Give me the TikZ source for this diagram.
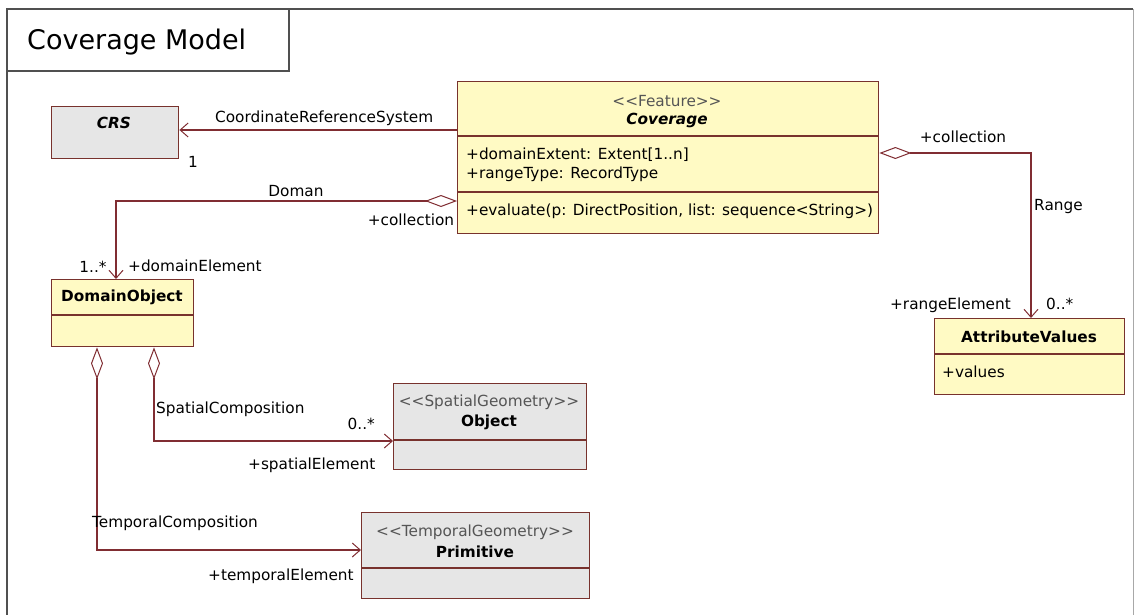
\documentclass[tikz,border=0pt]{standalone}
\usepackage{fontspec}
\setmainfont{DejaVu Sans}
\usetikzlibrary{arrows.meta,calc}
\definecolor{umlline}{RGB}{128,45,50}
\definecolor{umlborder}{RGB}{120,50,45}
\definecolor{umlyellow}{RGB}{255,250,196}
\definecolor{umlgray}{RGB}{230,230,230}
\definecolor{framegray}{RGB}{80,80,80}
\definecolor{stereo}{RGB}{85,85,85}
\tikzset{
  txt/.style={inner sep=0pt, font=\fontsize{15.3}{18}\selectfont},
  boldtxt/.style={inner sep=0pt, font=\fontsize{15.3}{18}\selectfont\bfseries},
  classbox/.style={draw=umlborder, line width=1.4pt, anchor=north west, inner sep=0pt},
  ybox/.style={classbox, fill=umlyellow},
  gbox/.style={classbox, fill=umlgray},
  divider/.style={draw=umlborder, line width=1.4pt},
  assoc/.style={draw=umlline, line width=1.1pt, -{Straight Barb[length=8pt,width=14pt,line width=1pt]}},
  aggr/.style={draw=umlline, line width=1.1pt, {Diamond[open,length=32pt,width=12pt,line width=1pt]}-{Straight Barb[length=8pt,width=14pt,line width=1pt]}},
  stereotxt/.style={txt, text=stereo},
}
\begin{document}
\begin{tikzpicture}[x=1pt,y=-1pt]
\useasboundingbox (0,0) rectangle (1134,615);
% frame
\draw[framegray!50, line width=1pt] (1133,9) -- (1133,615);
\draw[framegray, line width=2pt] (7,615) -- (7,9) -- (1133,9);
\draw[framegray, line width=1.3pt] (7,71) -- (289,71) -- (289,9);
\node[txt, anchor=west, font=\fontsize{27}{32}\selectfont] (title) at (27,42) {Coverage Model};

% classes
\node[gbox, minimum width=127pt, minimum height=52pt] (crs) at (51,106) {};
\node[txt, font=\fontsize{15.3}{18}\selectfont\bfseries\itshape] (crsname) at (114,123) {CRS};

\node[ybox, minimum width=421pt, minimum height=152pt] (cov) at (457,81) {};
\draw[divider] (457,136) -- (878,136);
\draw[divider] (457,192) -- (878,192);
\node[stereotxt] (covst) at (667,101) {<{}<Feature>{}>};
\node[txt, font=\fontsize{15.3}{18}\selectfont\bfseries\itshape] (covname) at (667,120) {Coverage};
\node[txt, anchor=west] (cova1) at (466,155) {+domainExtent: Extent[1..n]};
\node[txt, anchor=west] (cova2) at (466,174) {+rangeType: RecordType};
\node[txt, anchor=west] (covo1) at (466,211) {+evaluate(p: DirectPosition, list: sequence<{}String>{})};

\node[ybox, minimum width=142pt, minimum height=67pt] (dom) at (51,279) {};
\draw[divider] (51,315) -- (193,315);
\node[boldtxt] (domname) at (122,297) {DomainObject};

\node[ybox, minimum width=190pt, minimum height=76pt] (attr) at (934,318) {};
\draw[divider] (934,354) -- (1124,354);
\node[boldtxt] (attrname) at (1029,337) {AttributeValues};
\node[txt, anchor=west] (attra1) at (942,372) {+values};

\node[gbox, minimum width=193pt, minimum height=86pt] (obj) at (393,383) {};
\draw[divider] (393,440) -- (586,440);
\node[stereotxt] (objst) at (489,402) {<{}<SpatialGeometry>{}>};
\node[boldtxt] (objname) at (489,422) {Object};

\node[gbox, minimum width=228pt, minimum height=86pt] (prim) at (361,512) {};
\draw[divider] (361,568) -- (589,568);
\node[stereotxt] (primst) at (475,532) {<{}<TemporalGeometry>{}>};
\node[boldtxt] (primname) at (475,552) {Primitive};

% connectors
\draw[assoc] (cov.west |- 0,130) -- (crs.east |- 0,130);
\node[txt, anchor=west] (crslbl) at (215,118) {CoordinateReferenceSystem};
\node[txt] (crsmult) at (193,162) {1};

\draw[aggr] (cov.west |- 0,201) -| (dom.north -| 116,0);
\node[txt] (domlbl) at (296,191) {Doman};
\node[txt] (domcoll) at (411,220) {+collection};
\node[txt] (dommult) at (93,267) {1..*};
\node[txt, anchor=west] (domrole) at (128,266) {+domainElement};

\draw[aggr] (cov.east |- 0,153) -| (attr.north -| 1031,0);
\node[txt] (rngcoll) at (963,137) {+collection};
\node[txt, anchor=west] (rnglbl) at (1034,207) {Range};
\node[txt, anchor=east] (rngrole) at (1011,305) {+rangeElement};
\node[txt, anchor=west] (rngmult) at (1046,304) {0..*};

\draw[aggr] (dom.south -| 154,0) |- (obj.west |- 0,441);
\node[txt, anchor=west] (splbl) at (156,409) {SpatialComposition};
\node[txt, anchor=east] (spmult) at (375,424) {0..*};
\node[txt, anchor=west] (sprole) at (248,465) {+spatialElement};

\draw[aggr] (dom.south -| 97,0) |- (prim.west |- 0,550);
\node[txt, anchor=west] (tplbl) at (92,523) {TemporalComposition};
\node[txt, anchor=west] (tprole) at (208,576) {+temporalElement};
\end{tikzpicture}
\end{document}
